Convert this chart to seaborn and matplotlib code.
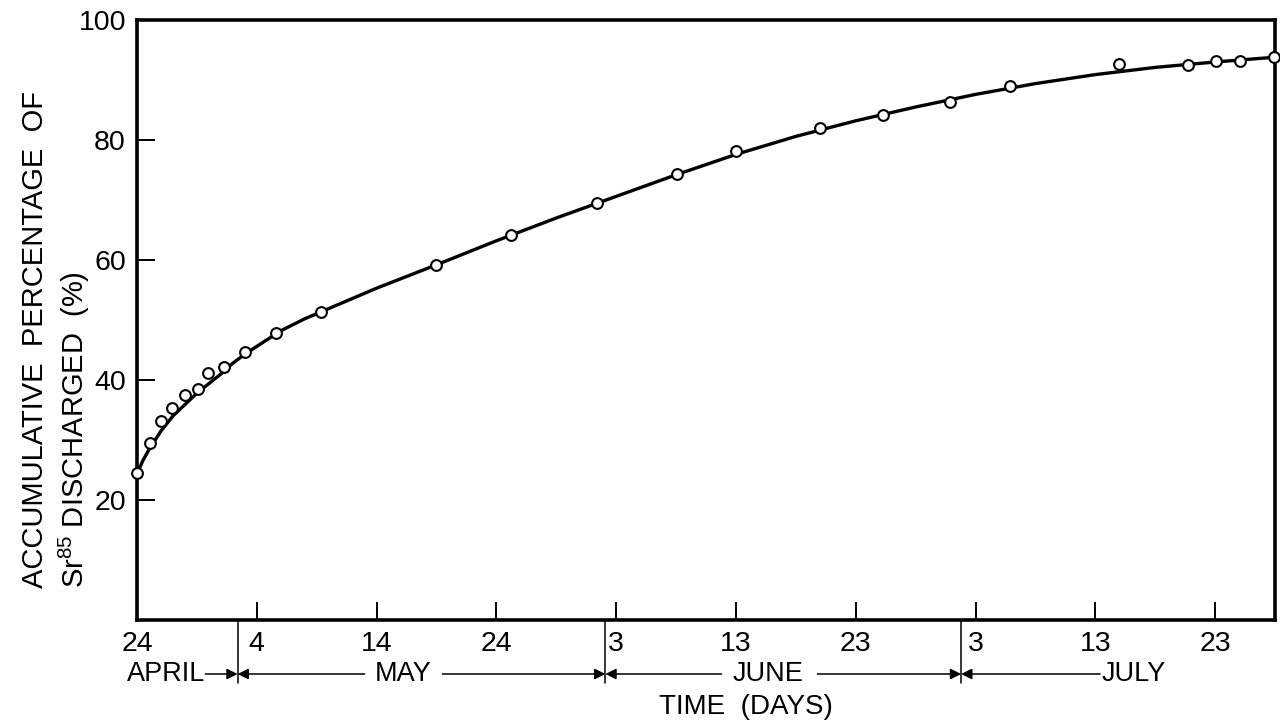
import matplotlib
matplotlib.use("Agg")
import matplotlib.pyplot as plt
import matplotlib.transforms as mtransforms
import pandas as pd
import seaborn as sns

# Measured accumulative Sr-85 discharge, days counted from 24 April
obs_day = [0.0, 1.1, 2.0, 2.9, 4.0, 5.1, 5.9, 7.3, 9.0, 11.6, 15.4, 25.0, 31.2,
           38.4, 45.1, 50.0, 57.0, 62.3, 67.9, 72.9, 82.0, 87.7, 90.1, 92.1, 94.9]
obs_pct = [24.5, 29.5, 33.2, 35.3, 37.5, 38.5, 41.1, 42.1, 44.6, 47.9, 51.3, 59.2, 64.2,
           69.5, 74.3, 78.1, 82.0, 84.2, 86.4, 89.0, 92.7, 92.5, 93.1, 93.2, 93.8]

# Smooth fitted discharge curve
curve_day = [0, 0.5, 1, 2, 3, 4, 5, 6, 7, 8, 9, 10, 12, 14, 16, 18, 20, 25, 30, 35,
             40, 45, 50, 55, 60, 65, 70, 75, 80, 85, 90, 95]
curve_pct = [24.4, 26.6, 28.4, 31.5, 34.0, 35.9, 37.8, 39.4, 41.0, 42.8, 44.3, 45.6,
             48.2, 50.2, 51.9, 53.6, 55.3, 59.2, 63.2, 67.0, 70.6, 74.2, 77.6, 80.6,
             83.2, 85.5, 87.6, 89.4, 90.9, 92.1, 93.0, 93.8]

# Calendar axis
tick_days = [0, 10, 20, 30, 40, 50, 60, 70, 80, 90]
tick_labels = ["24", "4", "14", "24", "3", "13", "23", "3", "13", "23"]
y_ticks = [20, 40, 60, 80, 100]
months = ["APRIL", "MAY", "JUNE", "JULY"]
month_breaks = [8.4, 39.1, 68.8]

sns.set_style("white")
plt.rcParams["font.family"] = ["Liberation Sans", "DejaVu Sans"]
plt.rcParams["mathtext.fontset"] = "custom"
plt.rcParams["mathtext.rm"] = "Liberation Sans"
plt.rcParams["mathtext.it"] = "Liberation Sans"
plt.rcParams["text.color"] = "black"
plt.rcParams["xtick.color"] = "black"
plt.rcParams["ytick.color"] = "black"

W, H = 1280, 726
fig = plt.figure(figsize=(W / 100, H / 100), dpi=100)
ax = fig.add_axes([137 / W, 106 / H, (1275 - 137) / W, 600 / H])

obs = pd.DataFrame({"day": obs_day, "pct": obs_pct})
curve = pd.DataFrame({"day": curve_day, "pct": curve_pct})

sns.lineplot(data=curve, x="day", y="pct", ax=ax, color="black", lw=2.4,
             sort=False, estimator=None, zorder=2)
sns.scatterplot(data=obs, x="day", y="pct", ax=ax, s=60, facecolor="white",
                edgecolor="black", linewidth=1.5, zorder=3, clip_on=False)

ax.set_xlim(0, 95)
ax.set_ylim(0, 100)
ax.set_xticks(tick_days)
ax.set_xticklabels(tick_labels)
ax.set_yticks(y_ticks)
ax.set_xlabel("")
ax.set_ylabel("")
ax.tick_params(axis="both", direction="in", length=13, width=1.4, color="black",
               labelsize=20.5, labelcolor="black", bottom=True, left=True)
ax.tick_params(axis="x", pad=8)
ax.tick_params(axis="y", pad=8)
for side in ["left", "right", "top", "bottom"]:
    ax.spines[side].set_visible(True)
    ax.spines[side].set_color("black")
    ax.spines[side].set_linewidth(2.6)

# Month bands beneath the day ticks
trans = mtransforms.blended_transform_factory(ax.transData, ax.transAxes)
row_y = -0.09
for b in month_breaks:
    ax.plot([b, b], [0, -0.105], transform=trans, color="black", lw=1.1,
            clip_on=False)

arrow_kw = dict(arrowstyle="-|>", color="black", lw=1.1, mutation_scale=16,
                shrinkA=0, shrinkB=0)
arrow_runs = [(5.7, 8.4), (19.0, 8.4), (25.5, 39.1), (48.8, 39.1),
              (56.8, 68.8), (80.4, 68.8)]
for tail, head in arrow_runs:
    ax.annotate("", xy=(head, row_y), xytext=(tail, row_y), xycoords=trans,
                textcoords=trans, arrowprops=arrow_kw, annotation_clip=False)

month_pos = [2.4, 22.2, 52.7, 83.2]
for name, pos in zip(months, month_pos):
    ax.text(pos, row_y, name, transform=trans, ha="center", va="center",
            fontsize=19.5, color="black", clip_on=False)

fig.text(746 / W, 1 - 707 / H, "TIME  (DAYS)", ha="center", va="center",
         fontsize=20, color="black")

fig.text(35 / W, 1 - 588 / H, "ACCUMULATIVE  PERCENTAGE  OF", rotation=90,
         ha="center", va="bottom", fontsize=21, color="black")
fig.text(74 / W, 1 - 588 / H, r"$\mathregular{Sr^{85}}$ DISCHARGED  (%)",
         rotation=90, ha="center", va="bottom", fontsize=21, color="black")

fig.savefig("out.png", dpi=100, facecolor="white")
